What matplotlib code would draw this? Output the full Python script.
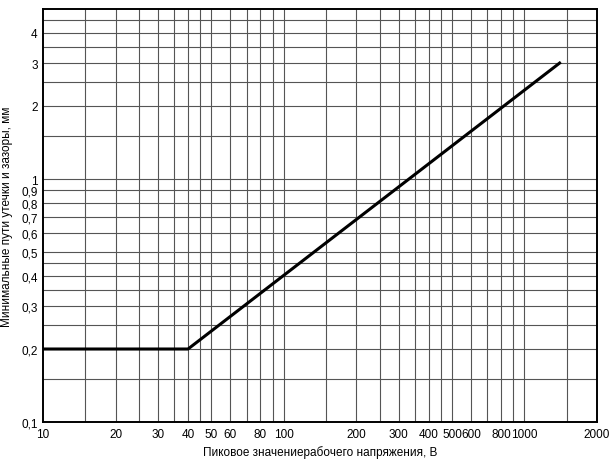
import matplotlib.pyplot as plt
from matplotlib.ticker import FixedLocator, FixedFormatter, NullLocator

plt.rcParams["font.family"] = ["Liberation Sans", "DejaVu Sans"]

volts = [10, 40, 1400]
gaps = [0.2, 0.2, 3.0]

x_grid = [15, 20, 25, 30, 35, 40, 45, 50, 60, 70, 80, 90, 100, 150, 200, 250,
          300, 350, 400, 450, 500, 600, 700, 800, 900, 1000, 1500]
x_ticks = [10, 20, 30, 40, 50, 60, 80, 100, 200, 300, 400, 500, 600, 800, 1000, 2000]
y_grid = [0.15, 0.2, 0.25, 0.3, 0.35, 0.4, 0.45, 0.5, 0.6, 0.7, 0.8, 0.9, 1,
          1.5, 2, 2.5, 3, 3.5, 4, 4.5]
y_ticks = [0.1, 0.2, 0.3, 0.4, 0.5, 0.6, 0.7, 0.8, 0.9, 1, 2, 3, 4]


def label(v):
    return (f"{v:g}").replace(".", ",")


fig = plt.figure(figsize=(6.16, 4.6), dpi=100)
ax = fig.add_axes([0.07, 0.08, 0.899, 0.898])
ax.set_xscale("log")
ax.set_yscale("log")
ax.set_xlim(10, 2000)
ax.set_ylim(0.1, 5)

for v in x_grid:
    ax.axvline(v, color="#555555", linewidth=0.8, zorder=1)
for v in y_grid:
    ax.axhline(v, color="#555555", linewidth=0.8, zorder=1)

ax.plot(volts, gaps, color="black", linewidth=2.2, zorder=3)

ax.xaxis.set_major_locator(FixedLocator(x_ticks))
ax.xaxis.set_major_formatter(FixedFormatter([label(v) for v in x_ticks]))
ax.xaxis.set_minor_locator(NullLocator())
ax.yaxis.set_major_locator(FixedLocator(y_ticks))
ax.yaxis.set_major_formatter(FixedFormatter([label(v) for v in y_ticks]))
ax.yaxis.set_minor_locator(NullLocator())
ax.tick_params(length=0, labelsize=8.5, pad=4)
for s in ax.spines.values():
    s.set_linewidth(1.4)

ax.set_xlabel("Пиковое значениерабочего напряжения, В", fontsize=8.5, labelpad=4)
ax.set_ylabel("Минимальные пути утечки и зазоры, мм", fontsize=8.5, labelpad=6)

fig.savefig("out.png", dpi=100)
